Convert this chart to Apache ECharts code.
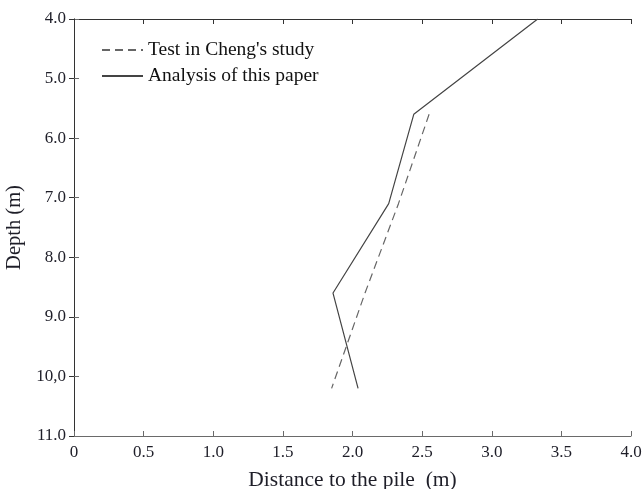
<!DOCTYPE html>
<html><head><meta charset="utf-8">
<script src="https://cdn.jsdelivr.net/npm/echarts@6/dist/echarts.min.js"></script>
<style>html,body{margin:0;padding:0;background:#fff}#c{width:643px;height:489px}</style>
</head><body><div id="c"></div>
<script>
const xTickLabels = ['0','0.5','1.0','1.5','2.0','2.5','3.0','3.5','4.0'];
const yTickLabels = ['4.0','5.0','6.0','7.0','8.0','9.0','10,0','11.0'];
const testDepth = [5.6, 7.1, 8.6, 10.2];
const testDist = [2.55, 2.33, 2.09, 1.85];
const anaDepth = [4.0, 5.6, 7.1, 8.6, 10.2];
const anaDist = [3.33, 2.44, 2.26, 1.86, 2.04];

const font = 'Liberation Serif';
const axCol = '#6a6a6a';
const axCol2 = '#333';
const txt = '#1e1e28';
const chart = echarts.init(document.getElementById('c'));
const xLab = v => xTickLabels[Math.round(v / 0.5)];
const yLab = v => yTickLabels[Math.round(v - 4)];
chart.setOption({
  animation: false,
  grid: {left: 74, right: 12, top: 19, bottom: 53, containLabel: false, outerBoundsMode: 'none'},
  legend: {
    left: 96, top: 35, orient: 'vertical', itemGap: 6,
    itemWidth: 41, itemHeight: 10,
    itemStyle: {opacity: 0},
    textStyle: {fontFamily: font, fontSize: 19.5, color: '#111'},
    data: ["Test in Cheng's study", 'Analysis of this paper']
  },
  xAxis: [{
    type: 'value', min: 0, max: 4, interval: 0.5, position: 'bottom',
    name: 'Distance to the pile  (m)', nameLocation: 'middle', nameGap: 33,
    nameTextStyle: {fontFamily: font, fontSize: 21.5, color: txt},
    axisLine: {show: true, lineStyle: {color: axCol}},
    axisTick: {show: true, inside: true, length: 5, lineStyle: {color: axCol}},
    axisLabel: {fontFamily: font, fontSize: 17, color: txt, margin: 8, formatter: xLab},
    splitLine: {show: false}
  }, {
    type: 'value', min: 0, max: 4, interval: 0.5, position: 'top',
    axisLine: {show: true, lineStyle: {color: axCol2}},
    axisTick: {show: true, inside: true, length: 5, lineStyle: {color: axCol2}},
    axisLabel: {show: false}, splitLine: {show: false}
  }],
  yAxis: [{
    type: 'value', min: 4, max: 11, interval: 1, inverse: true, position: 'left',
    name: 'Depth (m)', nameLocation: 'middle', nameGap: 46,
    nameTextStyle: {fontFamily: font, fontSize: 20.5, color: txt},
    axisLine: {show: true, lineStyle: {color: axCol}},
    axisTick: {show: true, inside: true, length: 5, lineStyle: {color: axCol}},
    axisLabel: {fontFamily: font, fontSize: 17, color: txt, margin: 8, formatter: yLab},
    splitLine: {show: false}
  }, {
    type: 'value', min: 4, max: 11, interval: 1, inverse: true, position: 'right',
    axisLine: {show: true, lineStyle: {color: axCol2}},
    axisTick: {show: true, inside: true, length: 5, lineStyle: {color: axCol2}},
    axisLabel: {show: false}, splitLine: {show: false}
  }],
  series: [{
    name: "Test in Cheng's study", type: 'line', symbol: 'none',
    data: testDist.map((d, i) => [d, testDepth[i]]),
    lineStyle: {color: '#666', width: 1.2, type: [8, 5]},
    itemStyle: {color: '#666'}
  }, {
    name: 'Analysis of this paper', type: 'line', symbol: 'none',
    data: anaDist.map((d, i) => [d, anaDepth[i]]),
    lineStyle: {color: '#444', width: 1.2},
    itemStyle: {color: '#444'}
  }]
});
</script></body></html>
